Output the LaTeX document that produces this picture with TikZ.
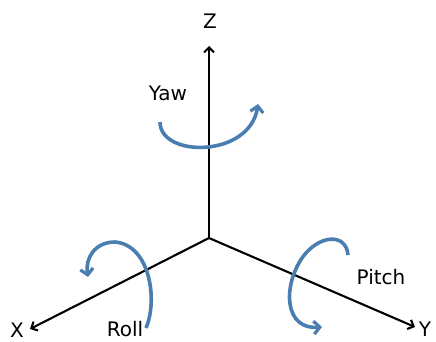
\documentclass[tikz,border=0pt]{standalone}
\usepackage{fontspec}
\setmainfont{DejaVu Sans}
\usetikzlibrary{arrows.meta}
\definecolor{rotblue}{RGB}{74,126,176}
\tikzset{
  axis/.style={line width=2.1pt, -{Straight Barb[length=5pt,width=10pt,line width=2.1pt]}},
  rot/.style={rotblue, line width=3.6pt, -{Straight Barb[length=6pt,width=13pt,line width=3.2pt]}},
  lbl/.style={font=\fontsize{20}{24}\selectfont, inner sep=0pt}
}
\begin{document}
\begin{tikzpicture}[x=1pt,y=-1pt]
\useasboundingbox (0,0) rectangle (436,342);
\coordinate (O) at (209,238);
\coordinate (Zt) at (209,46);
\coordinate (Xt) at (30,329);
\coordinate (Yt) at (415,327);
\draw[axis] (O) -- (Zt);
\draw[axis] (O) -- (Xt);
\draw[axis] (O) -- (Yt);
\node[lbl] (Z) at (210,21) {Z};
\node[lbl] (X) at (17,330) {X};
\node[lbl] (Y) at (425,329) {Y};
\node[lbl] (yaw) at (168,93) {Yaw};
\node[lbl] (roll) at (125,329) {Roll};
\node[lbl] (pitch) at (381,277) {Pitch};
\draw[rot] (160,122) .. controls (160,158) and (250,158) .. (258,104);
\draw[rot] (146,328) .. controls (158,300) and (150,245) .. (115,242) .. controls (95,242) and (85,258) .. (88,277);
\draw[rot] (348,255) .. controls (346,232) and (318,235) .. (302,258) .. controls (282,288) and (285,330) .. (322,327);
\end{tikzpicture}
\end{document}
